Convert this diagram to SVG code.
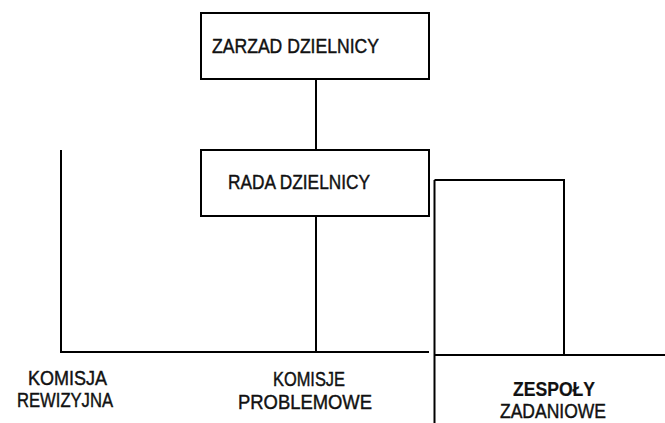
<svg xmlns="http://www.w3.org/2000/svg" width="665" height="423" viewBox="0 0 665 423">
  <style>
    .box { fill: #ffffff; stroke: #000000; stroke-width: 2; }
    .wire { fill: none; stroke: #000000; stroke-width: 2; }
    text { font-family: "Liberation Sans", Arial, sans-serif; font-size: 21px; fill: #111111; stroke: #111111; stroke-width: 0.45; }
    .strong { font-weight: bold; stroke-width: 0.2; }
  </style>
  <rect width="665" height="423" fill="#ffffff"/>

  <g id="connectors">
    <line class="wire" x1="316" y1="79" x2="316" y2="150"/>
    <line class="wire" x1="316" y1="216" x2="316" y2="352"/>
    <polyline class="wire" points="61,150 61,352 429,352"/>
    <line class="wire" x1="434.5" y1="180" x2="434.5" y2="423"/>
    <polyline class="wire" points="434.5,180 564,180 564,355"/>
    <line class="wire" x1="434.5" y1="355" x2="665" y2="355"/>
  </g>

  <g id="zarzad">
    <rect class="box" x="201" y="13" width="228" height="66"/>
    <text x="212" y="53" textLength="167" lengthAdjust="spacingAndGlyphs">ZARZAD DZIELNICY</text>
  </g>

  <g id="rada">
    <rect class="box" x="201" y="150" width="228" height="66"/>
    <text x="228" y="189" textLength="142" lengthAdjust="spacingAndGlyphs">RADA DZIELNICY</text>
  </g>

  <g id="komisja-rewizyjna">
    <text x="28" y="385" textLength="79" lengthAdjust="spacingAndGlyphs">KOMISJA</text>
    <text x="17" y="407" textLength="96" lengthAdjust="spacingAndGlyphs">REWIZYJNA</text>
  </g>

  <g id="komisje-problemowe">
    <text x="273" y="386" textLength="72" lengthAdjust="spacingAndGlyphs">KOMISJE</text>
    <text x="238" y="409" textLength="134" lengthAdjust="spacingAndGlyphs">PROBLEMOWE</text>
  </g>

  <g id="zespoly-zadaniowe">
    <text class="strong" x="513" y="396" textLength="82" lengthAdjust="spacingAndGlyphs">ZESPOŁY</text>
    <text x="500" y="418" textLength="106" lengthAdjust="spacingAndGlyphs">ZADANIOWE</text>
  </g>
</svg>
